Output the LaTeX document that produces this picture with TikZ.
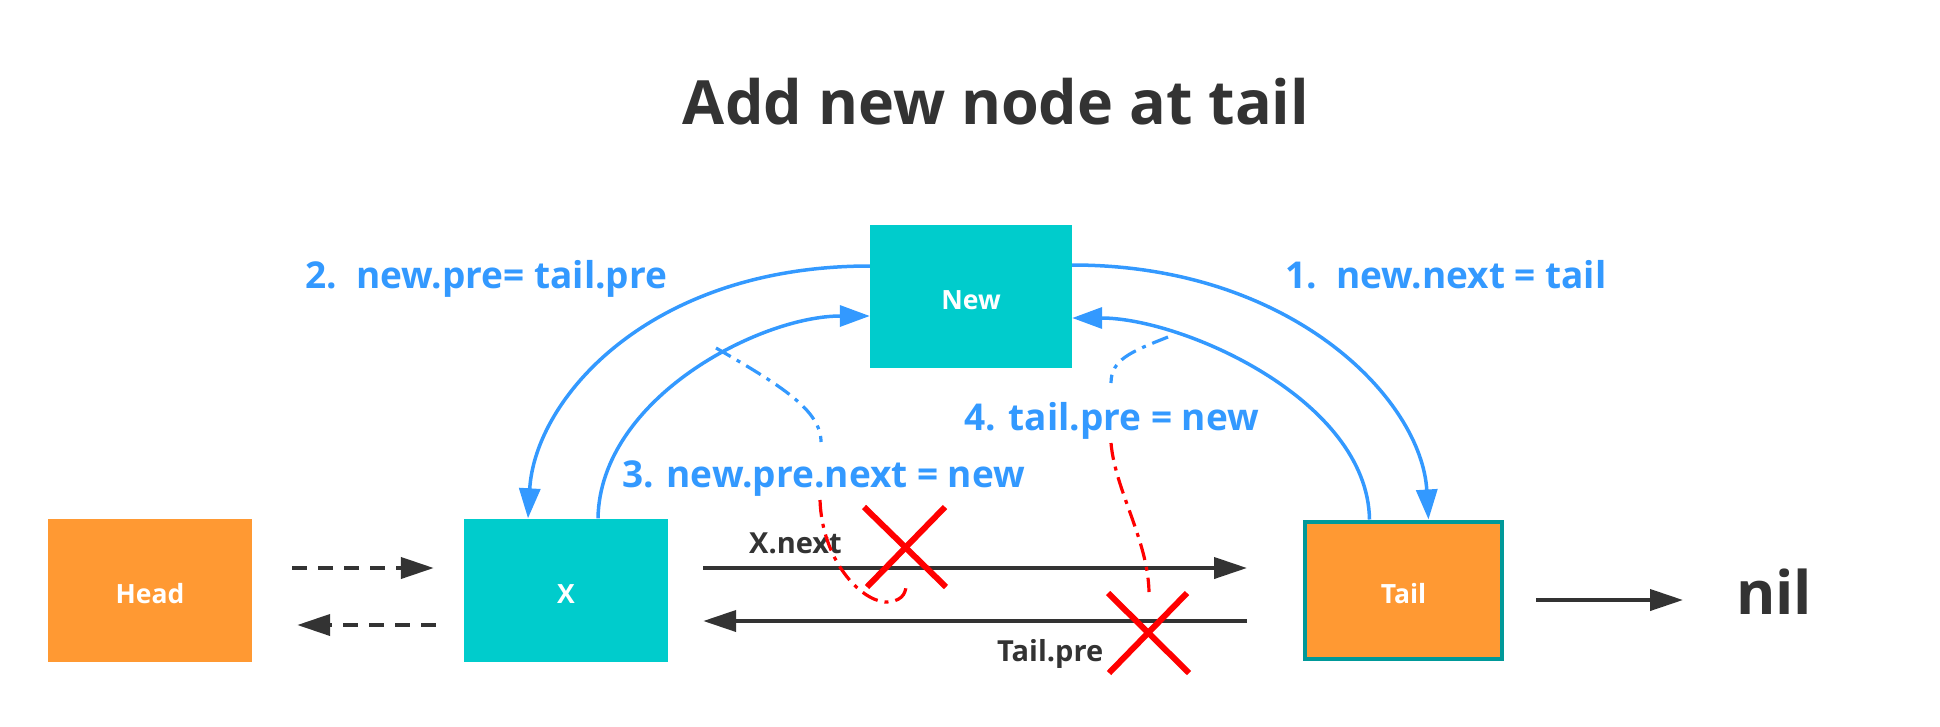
\documentclass[tikz,border=0pt]{standalone}
\usepackage{fontspec}
\setmainfont{Open Sans}
\usetikzlibrary{arrows.meta,calc}
\definecolor{boxcyan}{HTML}{00CCCC}
\definecolor{boxorange}{HTML}{FF9933}
\definecolor{tailborder}{HTML}{009999}
\definecolor{lblue}{HTML}{3399FF}
\definecolor{dark}{HTML}{333333}
\definecolor{xred}{HTML}{FF0000}
\begin{document}
\begin{tikzpicture}[x=1pt,y=-1pt,
  box/.style={minimum width=204pt,minimum height=143pt,inner sep=0pt,text=white,
    text height=27pt,text depth=0pt,
    font=\bfseries\fontsize{26.5}{28}\selectfont},
  cyanbox/.style={box,fill=boxcyan},
  orangebox/.style={box,fill=boxorange},
  steplabel/.style={text=lblue,anchor=base west,inner sep=0pt,font=\bfseries\fontsize{37}{40}\selectfont},
  linklabel/.style={text=dark,anchor=base west,inner sep=0pt,font=\bfseries\fontsize{29}{32}\selectfont},
  bluecurve/.style={draw=lblue,line width=3.5pt,-{Triangle[length=30pt,width=21pt]}},
  blackarrow/.style={draw=dark,line width=4pt,-{Triangle[length=33pt,width=21pt]}},
  dashedarrow/.style={blackarrow,dash pattern=on 15pt off 11pt},
  dashdotline/.style={line width=3.2pt,dash pattern=on 17pt off 7pt on 4pt off 7pt},
  bluedashdot/.style={dashdotline,draw=lblue},
  reddashdot/.style={dashdotline,draw=xred},
  crossline/.style={draw=xred,line width=6pt}]
\useasboundingbox (0,0) rectangle (1940,726);

% title
\node[anchor=base,inner sep=0pt,text=dark,font=\bfseries\fontsize{61}{66}\selectfont] (title) at (996,124) {Add new node at tail};

% boxes
\node[orangebox] (head) at (150,590) {Head};
\node[cyanbox] (x) at (566,590) {X};
\node[cyanbox,minimum width=202pt] (new) at (971,296) {New};
\node[box,fill=boxorange,draw=tailborder,line width=4pt,minimum width=197pt,minimum height=137pt] (tail) at (1403.5,590) {Tail};
\node[anchor=base west,inner sep=0pt,text=dark,font=\bfseries\fontsize{60}{66}\selectfont] (nil) at (1736,614) {nil};

% black arrows
\draw[dashedarrow] ($(head.east)+(40,-22)$) -- ($(x.west)+(-30,-22)$);
\draw[dashedarrow] ($(x.west)+(-28,35)$) -- ($(head.east)+(45,35)$);
\draw[blackarrow] ($(x.east)+(35,-22)$) -- ($(tail.west)+(-56,-22)$);
\draw[blackarrow] ($(tail.west)+(-56,31)$) -- ($(x.east)+(35,31)$);
\draw[blackarrow] ($(tail.east)+(32,10)$) -- ($(nil.west |- tail.east)+(-53,10)$);

\node[linklabel] (xnext) at (749,553) {X.next};
\node[linklabel] (tailpre) at (997,661) {Tail.pre};

% blue curves
\draw[bluecurve] ($(new.west)+(0,-30)$) .. controls +(-220,0) and +(7,-120) .. ($(x.north)+(-38,0)$);
\draw[bluecurve] ($(x.north)+(32,0)$) .. controls +(2,-120) and +(-110,0) .. ($(new.west)+(0,20)$);
\draw[bluecurve] ($(new.east)+(0,-31)$) .. controls +(220,0) and +(-7,-120) .. ($(tail.north)+(25,0)$);
\draw[bluecurve] ($(tail.north)+(-34,0)$) .. controls +(-2,-120) and +(110,0) .. ($(new.east)+(0,22)$);

% step labels
\node[steplabel] (s2) at (305,288) {2.\ \ new.pre= tail.pre};
\node[steplabel] (s1) at (1285,288) {1.\ \ new.next = tail};
\node[steplabel] (s4) at (964,430) {4. tail.pre = new};
\node[steplabel] (s3) at (622,487) {3. new.pre.next = new};

% dash-dot hints
\draw[bluedashdot] (716,348) .. controls (780,385) and (821,410) .. (821,442);
\draw[reddashdot] (820,500) .. controls (822,560) and (860,600) .. (885,602) .. controls (900,602) and (906,595) .. (906,585);
\draw[bluedashdot] (1168,337) .. controls (1130,352) and (1111,360) .. (1111,383);
\draw[reddashdot] (1111,443) .. controls (1115,490) and (1148,540) .. (1149,592);

% red crosses
\coordinate (c1) at (905,547);
\coordinate (c2) at (1148,633);
\draw[crossline] ($(c1)+(-41,-40)$) -- ($(c1)+(41,40)$);
\draw[crossline] ($(c1)+(40,-40)$) -- ($(c1)+(-38,40)$);
\draw[crossline] ($(c2)+(-40,-40)$) -- ($(c2)+(41,40)$);
\draw[crossline] ($(c2)+(39,-40)$) -- ($(c2)+(-39,40)$);
\end{tikzpicture}
\end{document}
